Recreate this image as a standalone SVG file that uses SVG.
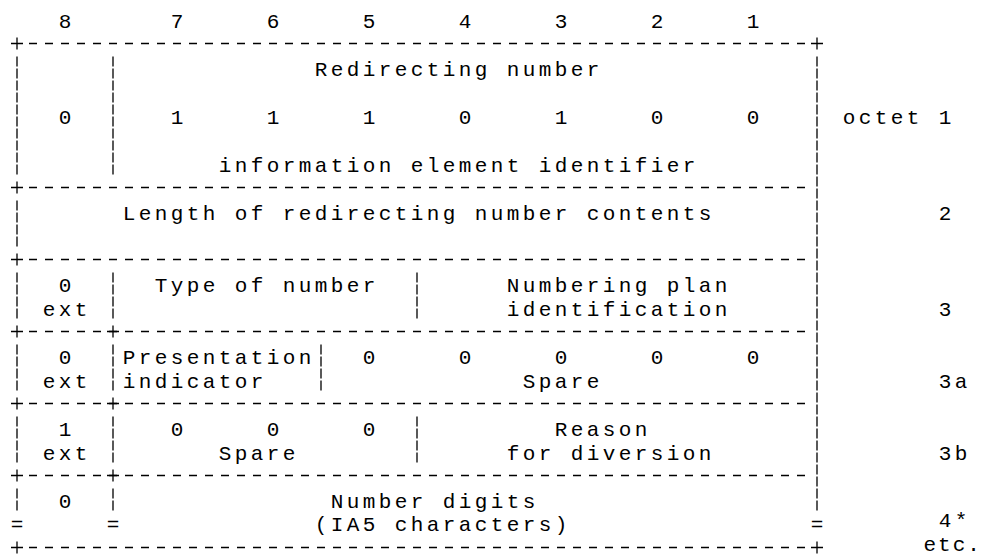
<svg xmlns="http://www.w3.org/2000/svg" width="983" height="558" viewBox="0 0 983 558">
<style>
text{font-family:"Liberation Mono","DejaVu Sans Mono",monospace;font-size:21px;letter-spacing:3.4px;fill:#000}
text.tight{letter-spacing:2px}
.h{stroke:#000;stroke-width:1.3;stroke-dasharray:8 8;fill:none}
.v{stroke:#000;stroke-width:1.3;stroke-dasharray:10 2;fill:none}
.p{stroke:#000;stroke-width:1.3;fill:none}
</style>
<rect width="983" height="558" fill="#fff"/>
<g id="connectors">
<path class="h" d="M29 43.5H805M29 187.5H805M29 259.5H805M29 331.5H805M29 403.5H805M29 475.5H805M29 547.5H805"/>
<path class="v" d="M17 56.5V174.5M17 200.5V246.5M17 272.5V318.5M17 344.5V390.5M17 416.5V462.5M17 488.5V510.5
M113 56.5V174.5M113 272.5V318.5M113 344.5V390.5M113 416.5V462.5M113 488.5V510.5
M321 344.5V390.5M417 272.5V318.5M417 416.5V462.5M817 56.5V510.5"/>
<path class="p" d="M11 43.5h12M17 37.5v12M811 43.5h12M817 37.5v12
M11 187.5h12M17 181.5v12M11 259.5h12M17 253.5v12
M11 331.5h12M17 325.5v12M107 331.5h12M113 325.5v12
M11 403.5h12M17 397.5v12M107 403.5h12M113 397.5v12
M11 475.5h12M17 469.5v12M107 475.5h12M113 469.5v12
M11 547.5h12M17 541.5v12M811 547.5h12M817 541.5v12"/>
<text x="10.7" y="531">=</text><text x="106.7" y="531">=</text><text x="810.7" y="531">=</text>
</g>
<g id="bit-numbers">
<text x="58.7" y="27.5">8</text><text x="170.7" y="27.5">7</text><text x="266.7" y="27.5">6</text><text x="362.7" y="27.5">5</text><text x="458.7" y="27.5">4</text><text x="554.7" y="27.5">3</text><text x="650.7" y="27.5">2</text><text x="746.7" y="27.5">1</text>
</g>
<g id="octet1">
<text x="314.7" y="75.5">Redirecting number</text>
<text x="58.7" y="123.5">0</text><text x="170.7" y="123.5">1</text><text x="266.7" y="123.5">1</text><text x="362.7" y="123.5">1</text><text x="458.7" y="123.5">0</text><text x="554.7" y="123.5">1</text><text x="650.7" y="123.5">0</text><text x="746.7" y="123.5">0</text>
<text x="218.7" y="171.5">information element identifier</text>
<text x="842.7" y="123.5">octet 1</text>
</g>
<g id="octet2">
<text x="122.7" y="219.5">Length of redirecting number contents</text>
<text x="938.7" y="219.5">2</text>
</g>
<g id="octet3">
<text x="58.7" y="291.5">0</text><text x="42.7" y="315.5">ext</text>
<text x="154.7" y="291.5">Type of number</text>
<text x="506.7" y="291.5">Numbering plan</text><text x="506.7" y="315.5">identification</text>
<text x="938.7" y="315.5">3</text>
</g>
<g id="octet3a">
<text x="58.7" y="363.5">0</text><text x="42.7" y="387.5">ext</text>
<text x="122.7" y="363.5">Presentation</text><text x="122.7" y="387.5">indicator</text>
<text x="362.7" y="363.5">0</text><text x="458.7" y="363.5">0</text><text x="554.7" y="363.5">0</text><text x="650.7" y="363.5">0</text><text x="746.7" y="363.5">0</text>
<text x="522.7" y="387.5">Spare</text>
<text x="938.7" y="387.5">3a</text>
</g>
<g id="octet3b">
<text x="58.7" y="435.5">1</text><text x="42.7" y="459.5">ext</text>
<text x="170.7" y="435.5">0</text><text x="266.7" y="435.5">0</text><text x="362.7" y="435.5">0</text>
<text x="218.7" y="459.5">Spare</text>
<text x="554.7" y="435.5">Reason</text><text x="506.7" y="459.5">for diversion</text>
<text x="938.7" y="459.5">3b</text>
</g>
<g id="octet4">
<text x="58.7" y="507.5">0</text>
<text x="330.7" y="507.5">Number digits</text>
<text x="314.7" y="531">(IA5 characters)</text>
<text x="938.7" y="527">4*</text>
<text class="tight" x="923.5" y="551">etc.</text>
</g>
</svg>
